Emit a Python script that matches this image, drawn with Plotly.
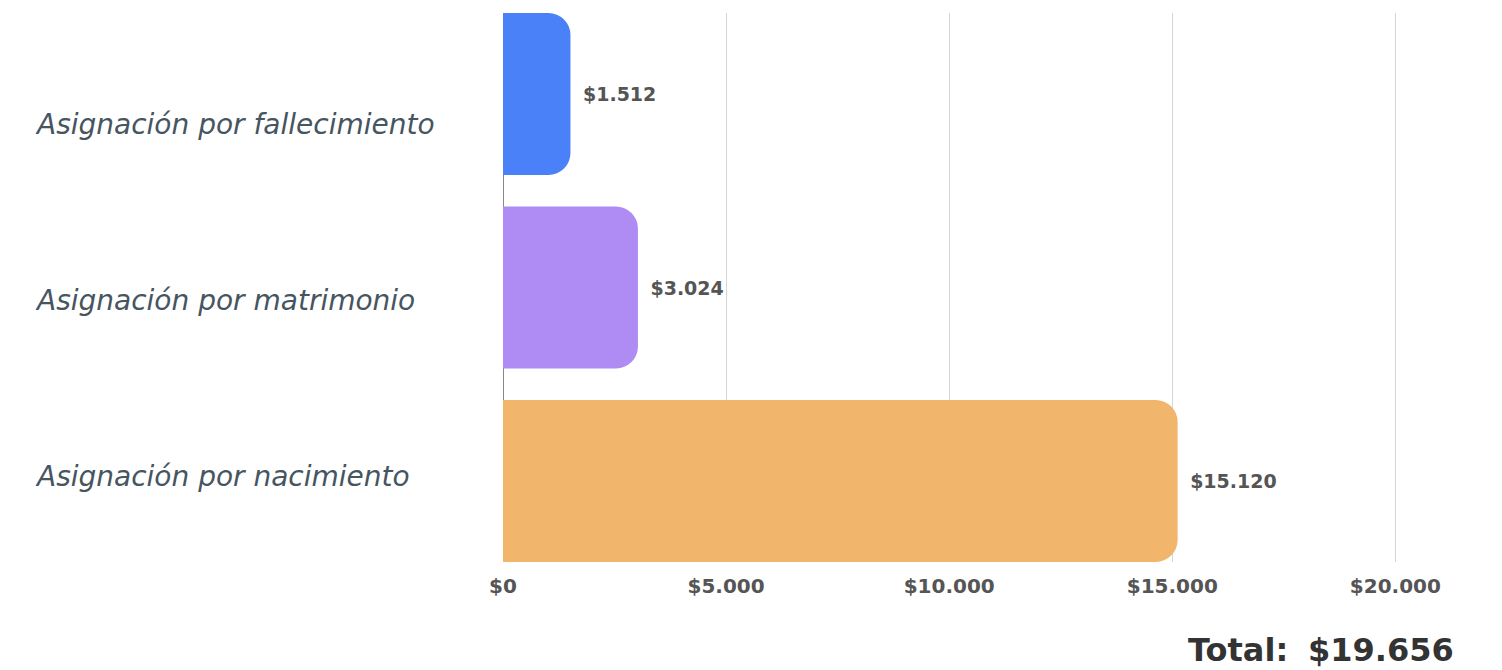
import plotly.graph_objects as go

categories = ["Asignación por fallecimiento", "Asignación por matrimonio", "Asignación por nacimiento"]
values = [1512, 3024, 15120]
colors = ["#4a80f8", "#ae8cf4", "#f1b66c"]
tick_vals = [0, 5000, 10000, 15000, 20000]
tick_text = ["$0", "$5.000", "$10.000", "$15.000", "$20.000"]

def fmt(v):
    return "$" + f"{v:,}".replace(",", ".")

FONT = "DejaVu Sans"
total = sum(values)

OFF = 8  # page body margin
W, H = 1502, 670
L, R, T, B = 503 - OFF, W - (1440 - OFF), 13 - OFF, H - (562 - OFF)
PW, PH = W - L - R, H - T - B

def px(x):
    return (x - OFF - L) / PW

def py(y):
    return 1 - (y - OFF - T) / PH

fig = go.Figure()
fig.add_trace(go.Bar(
    y=categories, x=values, orientation="h",
    marker=dict(color=colors, line=dict(width=0)),
    text=["\u2002" + fmt(v) for v in values], textposition="outside",
    textfont=dict(family=FONT, size=19, color="#555555", weight="bold"),
    cliponaxis=False, width=0.837, hoverinfo="skip",
))

fig.update_layout(
    width=W, height=H,
    margin=dict(l=L, r=R, t=T, b=B),
    paper_bgcolor="white", plot_bgcolor="white",
    barcornerradius=22,
    showlegend=False,
    xaxis=dict(range=[0, 21000], tickvals=tick_vals, ticktext=tick_text,
               showgrid=True, gridcolor="#d6d6d6", gridwidth=1,
               zeroline=True, zerolinecolor="#888888", zerolinewidth=1,
               showline=False, ticks="", ticklabelstandoff=10,
               tickfont=dict(family=FONT, size=20, color="#555555", weight="bold")),
    yaxis=dict(range=[2.4185, -0.4185], showticklabels=False, showgrid=False,
               zeroline=False, showline=False, ticks=""),
)

label_y = [124, 300, 476]
for cat, ly in zip(categories, label_y):
    fig.add_annotation(text=cat, xref="paper", yref="paper",
                       x=px(33), xanchor="left",
                       y=py(ly), yanchor="middle",
                       showarrow=False,
                       font=dict(family=FONT, size=28, color="#46555f", style="italic"))

fig.add_annotation(text="<b>Total:</b>", xref="paper", yref="paper",
                   x=px(1290), xanchor="right", y=py(650), yanchor="middle",
                   showarrow=False, font=dict(family=FONT, size=32, color="#333333"))
fig.add_annotation(text="<b>" + fmt(total) + "</b>", xref="paper", yref="paper",
                   x=px(1456), xanchor="right", y=py(650), yanchor="middle",
                   showarrow=False, font=dict(family=FONT, size=32, color="#333333"))

fig.write_html("out.html")
